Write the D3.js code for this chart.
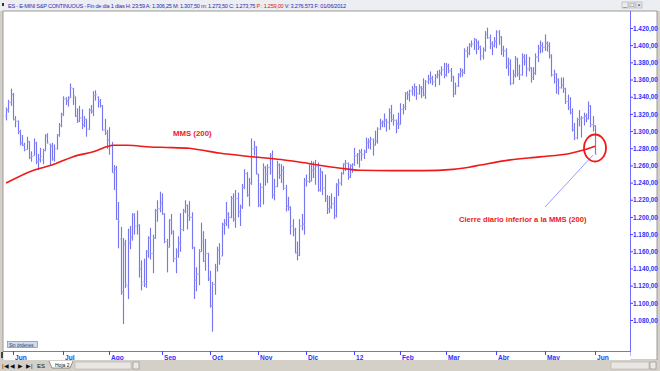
<!DOCTYPE html>
<html>
<head>
<meta charset="utf-8">
<script src="https://cdn.jsdelivr.net/npm/d3@7"></script>
<style>
  body { margin: 0; background: #fff; }
  svg { display: block; font-family: "Liberation Sans", Arial, sans-serif; }
</style>
</head>
<body>
<svg id="chart" width="660" height="371"></svg>
<script>
// ES continuous, daily bars from late May 2011 to 1 Jun 2012 (one value per session)
const opens = [
  1318, 1325, 1334,
  // Jun
  1343, 1314, 1312, 1300, 1287, 1284, 1279, 1288, 1270, 1272, 1286, 1265, 1268, 1267, 1278, 1295, 1285, 1283, 1268, 1280, 1296, 1307,
  // Jul
  1320, 1338, 1335, 1340, 1350, 1340, 1318, 1313, 1316, 1308, 1314, 1303, 1325, 1323, 1342, 1340, 1335, 1330, 1302, 1298,
  // Ago
  1290, 1284, 1252, 1256, 1198, 1175, 1113, 1168, 1120, 1170, 1177, 1203, 1190, 1190, 1140, 1125, 1122, 1160, 1176, 1158, 1176, 1208, 1210,
  // Sep
  1218, 1204, 1172, 1165, 1197, 1183, 1152, 1160, 1170, 1186, 1207, 1214, 1202, 1200, 1165, 1127, 1134, 1160, 1172, 1149, 1158,
  // Oct
  1128, 1097, 1122, 1142, 1162, 1155, 1192, 1193, 1204, 1200, 1222, 1198, 1222, 1206, 1212, 1235, 1251, 1226, 1240, 1280, 1282,
  // Nov
  1250, 1215, 1235, 1258, 1250, 1258, 1272, 1226, 1236, 1261, 1249, 1255, 1234, 1213, 1212, 1190, 1185, 1159, 1156, 1190, 1192,
  // Dic
  1243, 1242, 1242, 1255, 1256, 1259, 1232, 1253, 1234, 1222, 1210, 1212, 1216, 1202, 1238, 1240, 1251, 1262, 1263, 1247, 1260,
  // Ene 2012
  1262, 1272, 1273, 1276, 1273, 1276, 1287, 1288, 1291, 1284, 1289, 1303, 1310, 1311, 1313, 1311, 1322, 1314, 1313, 1309,
  // Feb
  1310, 1326, 1328, 1344, 1343, 1347, 1350, 1352, 1344, 1351, 1350, 1343, 1358, 1361, 1362, 1358, 1364, 1366, 1368, 1372,
  // Mar
  1366, 1376, 1371, 1364, 1344, 1353, 1366, 1370, 1369, 1394, 1391, 1401, 1402, 1407, 1403, 1398, 1388, 1395, 1414, 1409, 1402, 1400,
  // Abr
  1405, 1416, 1410, 1395, 1394, 1376, 1379, 1356, 1366, 1384, 1367, 1366, 1387, 1381, 1373, 1374, 1363, 1368, 1387, 1397, 1400,
  // May
  1398, 1403, 1400, 1388, 1366, 1367, 1360, 1351, 1354, 1350, 1335, 1328, 1322, 1302, 1293, 1314, 1315, 1316, 1318, 1315, 1330, 1308,
  // Jun
  1306.25
];
const highs = [
  1328, 1337, 1350,
  1345, 1318, 1313, 1302, 1296, 1287, 1294, 1289, 1277, 1292, 1288, 1274, 1281, 1280, 1297, 1298, 1286, 1287, 1285, 1297, 1310, 1322,
  1341, 1340, 1341, 1356, 1351, 1341, 1327, 1330, 1326, 1318, 1315, 1327, 1331, 1347, 1348, 1341, 1338, 1331, 1315, 1302,
  1305, 1288, 1261, 1260, 1218, 1189, 1176, 1174, 1187, 1190, 1205, 1205, 1208, 1192, 1150, 1152, 1162, 1178, 1188, 1180, 1210, 1220, 1230,
  1228, 1205, 1175, 1198, 1204, 1185, 1164, 1178, 1205, 1210, 1220, 1215, 1219, 1206, 1166, 1142, 1163, 1194, 1184, 1175, 1159,
  1138, 1125, 1146, 1166, 1170, 1194, 1198, 1218, 1206, 1225, 1228, 1232, 1229, 1215, 1239, 1256, 1253, 1246, 1292, 1289, 1283,
  1251, 1240, 1263, 1260, 1262, 1275, 1278, 1245, 1266, 1263, 1262, 1260, 1238, 1224, 1213, 1198, 1188, 1172, 1198, 1204, 1246,
  1250, 1262, 1266, 1265, 1267, 1264, 1258, 1254, 1250, 1226, 1225, 1228, 1224, 1240, 1245, 1253, 1263, 1267, 1264, 1262, 1263,
  1281, 1275, 1279, 1280, 1279, 1293, 1292, 1294, 1292, 1301, 1305, 1315, 1313, 1321, 1315, 1327, 1331, 1320, 1314, 1322,
  1333, 1332, 1346, 1347, 1349, 1353, 1356, 1353, 1355, 1353, 1362, 1360, 1366, 1370, 1365, 1367, 1371, 1372, 1376, 1380,
  1380, 1379, 1374, 1365, 1357, 1368, 1374, 1373, 1397, 1399, 1403, 1406, 1409, 1408, 1406, 1400, 1398, 1417, 1421, 1413, 1405, 1410,
  1418, 1418, 1411, 1400, 1397, 1386, 1384, 1372, 1388, 1386, 1378, 1391, 1390, 1390, 1387, 1375, 1375, 1391, 1401, 1406, 1404,
  1413, 1405, 1404, 1390, 1372, 1368, 1362, 1363, 1363, 1351, 1343, 1340, 1327, 1310, 1316, 1325, 1318, 1322, 1321, 1335, 1331, 1318,
  1307.5
];
const lows = [
  1313, 1322, 1330,
  1313, 1305, 1297, 1284, 1283, 1277, 1279, 1268, 1265, 1272, 1262, 1255, 1264, 1262, 1277, 1286, 1260, 1266, 1265, 1279, 1294, 1305,
  1318, 1331, 1329, 1339, 1331, 1317, 1310, 1311, 1303, 1305, 1294, 1302, 1321, 1318, 1336, 1328, 1328, 1301, 1296, 1280,
  1273, 1252, 1232, 1197, 1164, 1110, 1076, 1118, 1105, 1163, 1173, 1180, 1180, 1130, 1115, 1119, 1118, 1153, 1151, 1135, 1175, 1195, 1206,
  1203, 1170, 1136, 1165, 1180, 1148, 1135, 1153, 1160, 1184, 1205, 1186, 1196, 1163, 1105, 1114, 1121, 1160, 1148, 1138, 1126,
  1095, 1067, 1110, 1137, 1145, 1155, 1180, 1190, 1187, 1199, 1195, 1188, 1200, 1190, 1210, 1233, 1224, 1213, 1238, 1272, 1250,
  1212, 1212, 1215, 1237, 1240, 1250, 1222, 1220, 1235, 1245, 1240, 1232, 1207, 1208, 1180, 1178, 1158, 1150, 1155, 1185, 1180,
  1236, 1240, 1242, 1246, 1238, 1230, 1230, 1226, 1218, 1204, 1205, 1210, 1198, 1200, 1225, 1237, 1250, 1254, 1244, 1246, 1252,
  1260, 1262, 1258, 1266, 1268, 1275, 1280, 1279, 1272, 1284, 1286, 1302, 1305, 1305, 1300, 1302, 1311, 1307, 1298, 1303,
  1308, 1320, 1325, 1337, 1335, 1342, 1341, 1337, 1343, 1339, 1341, 1338, 1355, 1356, 1354, 1352, 1362, 1354, 1365, 1362,
  1364, 1368, 1358, 1340, 1343, 1352, 1363, 1364, 1367, 1386, 1389, 1398, 1395, 1390, 1395, 1383, 1384, 1393, 1408, 1396, 1389, 1398,
  1397, 1401, 1389, 1387, 1373, 1365, 1354, 1355, 1363, 1364, 1360, 1365, 1377, 1364, 1370, 1357, 1360, 1366, 1381, 1391, 1392,
  1394, 1393, 1385, 1364, 1356, 1344, 1343, 1350, 1345, 1332, 1325, 1320, 1300, 1290, 1291, 1306, 1293, 1307, 1311, 1314, 1305, 1300,
  1273.5
];
const closes = [
  1325, 1334, 1343,
  1314, 1312, 1300, 1286, 1284, 1279, 1289, 1270, 1271, 1287, 1265, 1267, 1271, 1278, 1295, 1287, 1283, 1268, 1280, 1296, 1307, 1320,
  1338, 1336, 1338, 1351, 1342, 1318, 1312, 1316, 1307, 1314, 1303, 1325, 1324, 1342, 1343, 1335, 1330, 1302, 1298, 1290,
  1284, 1252, 1258, 1198, 1195, 1113, 1170, 1122, 1170, 1177, 1203, 1190, 1192, 1140, 1122, 1122, 1160, 1176, 1158, 1176, 1208, 1210, 1216,
  1204, 1172, 1165, 1197, 1183, 1152, 1160, 1170, 1186, 1207, 1214, 1202, 1200, 1165, 1127, 1134, 1160, 1172, 1149, 1158, 1129,
  1097, 1122, 1142, 1162, 1152, 1192, 1193, 1204, 1200, 1222, 1198, 1222, 1206, 1212, 1235, 1251, 1226, 1240, 1280, 1282, 1251,
  1215, 1235, 1258, 1250, 1258, 1272, 1226, 1236, 1261, 1249, 1255, 1234, 1213, 1212, 1190, 1185, 1159, 1156, 1190, 1192, 1243,
  1242, 1242, 1255, 1256, 1259, 1232, 1253, 1234, 1222, 1210, 1212, 1216, 1202, 1238, 1240, 1251, 1262, 1263, 1247, 1260, 1255,
  1272, 1273, 1276, 1273, 1276, 1287, 1288, 1291, 1284, 1289, 1303, 1310, 1311, 1313, 1311, 1322, 1314, 1313, 1309, 1308,
  1326, 1328, 1344, 1343, 1347, 1350, 1352, 1344, 1351, 1350, 1343, 1358, 1361, 1362, 1358, 1364, 1366, 1368, 1372, 1366,
  1376, 1371, 1364, 1344, 1353, 1366, 1370, 1369, 1394, 1391, 1401, 1402, 1407, 1403, 1398, 1388, 1395, 1414, 1409, 1402, 1400, 1405,
  1416, 1410, 1395, 1394, 1376, 1379, 1356, 1366, 1384, 1367, 1366, 1387, 1381, 1373, 1374, 1363, 1368, 1387, 1397, 1400, 1398,
  1403, 1400, 1388, 1366, 1367, 1360, 1351, 1354, 1350, 1335, 1328, 1322, 1302, 1293, 1314, 1315, 1316, 1318, 1315, 1330, 1308, 1307,
  1273.75
];

// MMS (200): bar index -> value
const smaIndex = [0, 12, 20, 29, 38, 47, 53, 63, 70, 80, 85, 93, 106, 120, 128, 141, 150, 154, 168, 182, 195, 202, 207, 220, 233, 246, 252, 257];
const smaValue = [1240, 1255, 1261, 1270.5, 1276.5, 1284, 1284, 1282, 1281.5, 1280.5, 1278.5, 1275, 1271, 1267.5, 1264.5, 1259, 1256, 1255, 1254.5, 1254.5, 1256, 1258.5, 1261, 1267, 1270.5, 1274.5, 1278.5, 1283];

const monthLabels = ["Jun", "Jul", "Ago", "Sep", "Oct", "Nov", "Dic", "12", "Feb", "Mar", "Abr", "May", "Jun"];
const monthStart = [3, 25, 45, 68, 89, 110, 131, 152, 172, 192, 214, 235, 257];
const priceTicks = [1080, 1100, 1120, 1140, 1160, 1180, 1200, 1220, 1240, 1260, 1280, 1300, 1320, 1340, 1360, 1380, 1400, 1420];

const svg = d3.select("#chart");
const W = 660, H = 371;
const plot = { left: 3, right: 630, top: 11, bottom: 351 };

const x = d3.scaleLinear().domain([3, 257]).range([13, 595]);
const y = d3.scaleLinear().domain([1080, 1420]).range([320.5, 28.5]);

const es = d3.formatLocale({ decimal: ",", thousands: ".", grouping: [3], currency: ["", ""] });
const fmt = es.format(",.2f");

// window frame
svg.append("rect").attr("width", W).attr("height", H).attr("fill", "#d4d0c8");
svg.append("rect").attr("x", 0).attr("y", 0).attr("width", W).attr("height", 11).attr("fill", "#eceef2");
svg.append("rect").attr("x", plot.left).attr("y", plot.top).attr("width", W - 6).attr("height", 349)
  .attr("fill", "#fff").attr("stroke", "#9a9a9a").attr("stroke-width", 1);

// header line: one text, stretched to the width it has in the reference
const header = svg.append("text").attr("x", 8).attr("y", 7.5).attr("font-size", 5.6)
  .attr("fill", "#2b2bb5").attr("textLength", 338).attr("lengthAdjust", "spacing");
header.append("tspan").text("ES - E-MINI S&P CONTINUOUS - Fin de día 1 días  H: 23:59  A: 1.306,25  M: 1.307,50  m: 1.273,50  C: 1.273,75  ");
header.append("tspan").attr("fill", "#e02020").text("P : 1.259,00");
header.append("tspan").text("  V: 3.276.573  F: 01/06/2012");
svg.append("rect").attr("x", 2).attr("y", 3).attr("width", 2).attr("height", 3).attr("fill", "#333");

// window buttons
[622, 629, 636].forEach((bx, i) => {
  const g = svg.append("g");
  g.append("rect").attr("x", bx).attr("y", 2).attr("width", 6).attr("height", 6).attr("fill", "#ececec").attr("stroke", "#999").attr("stroke-width", 0.5);
  g.append("text").attr("x", bx + 3).attr("y", 7).attr("font-size", 6).attr("text-anchor", "middle").attr("fill", "#333").text(["_", "□", "×"][i]);
});

// right price axis
const yAxis = svg.append("g").attr("transform", `translate(${plot.right},0)`);
yAxis.append("line").attr("y1", plot.top).attr("y2", 356).attr("x1", 0.5).attr("x2", 0.5).attr("stroke", "#7070ff");
yAxis.selectAll("g.tick").data(priceTicks).join("g").attr("class", "tick")
  .attr("transform", d => `translate(0,${y(d)})`)
  .call(g => g.append("line").attr("x1", 0.5).attr("x2", 3).attr("stroke", "#4040ff"))
  .call(g => g.append("text").attr("x", 3).attr("y", 2.2).attr("font-size", 6.4).attr("font-weight", "bold")
    .attr("fill", "#3030ff").text(d => fmt(d)));

// bottom time axis
const xAxis = svg.append("g");
xAxis.append("line").attr("x1", plot.left).attr("x2", plot.right).attr("y1", plot.bottom + 0.5).attr("y2", plot.bottom + 0.5).attr("stroke", "#7070ff");
xAxis.append("rect").attr("x", plot.left + 0.5).attr("y", plot.bottom + 1).attr("width", plot.right - plot.left).attr("height", 8).attr("fill", "#fff");
monthStart.forEach((idx, k) => {
  const px = Math.round(x(idx)) + 0.5;
  xAxis.append("line").attr("x1", px).attr("x2", px).attr("y1", plot.bottom).attr("y2", plot.bottom + 4).attr("stroke", "#4040ff");
  xAxis.append("text").attr("x", px + 1.5).attr("y", plot.bottom + 8.5).attr("font-size", 6.6).attr("font-weight", "bold")
    .attr("fill", "#3030ff").text(monthLabels[k]);
});

// OHLC bars
const idx = d3.range(closes.length);
const bars = svg.append("g").attr("stroke", "#7676f2").attr("stroke-width", 1.15);
idx.forEach(i => {
  const px = Math.round(x(i)) + 0.5;
  bars.append("line").attr("x1", px).attr("x2", px).attr("y1", y(highs[i])).attr("y2", y(lows[i]));
  bars.append("line").attr("x1", px - 1.2).attr("x2", px).attr("y1", y(opens[i])).attr("y2", y(opens[i])).attr("stroke", "#a4a4f8");
  bars.append("line").attr("x1", px).attr("x2", px + 1.2).attr("y1", y(closes[i])).attr("y2", y(closes[i])).attr("stroke", "#a4a4f8");
});

// MMS (200)
const sma = d3.line().x(d => x(d[0])).y(d => y(d[1])).curve(d3.curveMonotoneX);
svg.append("path").datum(d3.zip(smaIndex, smaValue)).attr("d", sma)
  .attr("fill", "none").attr("stroke", "#f01818").attr("stroke-width", 1.6);

svg.append("text").attr("x", 173).attr("y", 136).attr("font-size", 7.8).attr("font-weight", "bold")
  .attr("fill", "#f01818").text("MMS (200)");

// annotation on the last close
const last = closes.length - 1;
svg.append("line").attr("x1", x(last) - 2).attr("y1", y(closes[last]) + 1).attr("x2", 545).attr("y2", 207)
  .attr("stroke", "#8080ff").attr("stroke-width", 0.8);
svg.append("ellipse").attr("cx", x(last)).attr("cy", 148).attr("rx", 11).attr("ry", 13.5)
  .attr("fill", "none").attr("stroke", "#f01818").attr("stroke-width", 1.8);
svg.append("text").attr("x", 459).attr("y", 222).attr("font-size", 7.6).attr("font-weight", "bold")
  .attr("fill", "#f01818").text("Cierre diario inferior a la MMS (200)");

// "Sin órdenes" button
svg.append("rect").attr("x", 7.5).attr("y", 341.5).attr("width", 30).attr("height", 6).attr("fill", "#d0dcea").attr("stroke", "#6a7d9a").attr("stroke-width", 0.6);
svg.append("text").attr("x", 9).attr("y", 346.5).attr("font-size", 4.6).attr("fill", "#2a3a6a").text("Sin órdenes");

// bottom tab strip
svg.append("rect").attr("x", 0).attr("y", 360).attr("width", W).attr("height", 11).attr("fill", "#d4d0c8");
svg.append("rect").attr("x", 1).attr("y", 352).attr("width", 2).attr("height", 6).attr("fill", "#444");
["|◀", "◀", "▶", "▶|"].forEach((t, i) => {
  svg.append("text").attr("x", 2 + i * 8).attr("y", 368).attr("font-size", 6).attr("fill", "#111").text(t);
});
svg.append("text").attr("x", 37).attr("y", 368).attr("font-size", 6).attr("fill", "#111").text("ES");
svg.append("path").attr("d", "M49,361 L52,368 L70,368 L73,361").attr("fill", "#fff").attr("stroke", "#555").attr("stroke-width", 0.6);
svg.append("text").attr("x", 55).attr("y", 366.5).attr("font-size", 5).attr("fill", "#111").text("Hoja 2");
svg.append("rect").attr("x", 75).attr("y", 362).attr("width", 56).attr("height", 7).attr("fill", "#e8e6e2").attr("stroke", "#aaa").attr("stroke-width", 0.5);
svg.append("rect").attr("x", 133).attr("y", 362).attr("width", 6).attr("height", 7).attr("fill", "#ece9e4").attr("stroke", "#777").attr("stroke-width", 0.5);
svg.append("rect").attr("x", 611).attr("y", 362).attr("width", 38).attr("height", 7).attr("fill", "#e8e6e2").attr("stroke", "#aaa").attr("stroke-width", 0.5);
svg.append("rect").attr("x", 650).attr("y", 362).attr("width", 6).attr("height", 7).attr("fill", "#ece9e4").attr("stroke", "#777").attr("stroke-width", 0.5);
</script>
</body>
</html>
